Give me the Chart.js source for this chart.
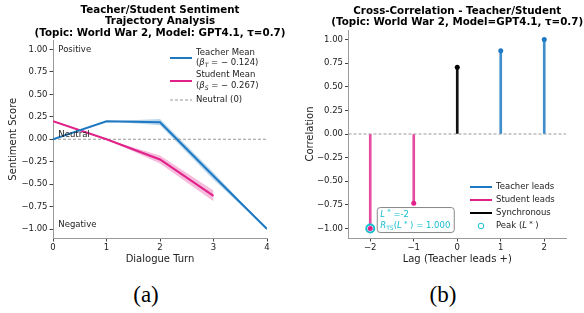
<!DOCTYPE html>
<html>
<head>
<meta charset="utf-8">
<script src="https://cdn.jsdelivr.net/npm/chart.js@4.4.0/dist/chart.umd.min.js"></script>
<style>
  body { margin: 0; background: #fff; width: 584px; height: 313px; position: relative; overflow: hidden; }
  canvas { position: absolute; top: 0; }
  #left { left: 0; }
  #right { left: 292px; }
  .tag { position: absolute; top: 282px; font: 23px "Liberation Serif", "DejaVu Serif", serif; color: #000; transform: translateX(-50%); }
</style>
</head>
<body>
<canvas id="left" width="292" height="270"></canvas>
<canvas id="right" width="292" height="270"></canvas>
<div class="tag" style="left:146px">(a)</div>
<div class="tag" style="left:443px">(b)</div>
<script>
// ---- data (a): sentiment trajectory
const turns = [0, 1, 2, 3, 4];
const teacherMean = [0, 0.2, 0.19, -0.41, -1.0];
const teacherUpper = [0, 0.2, 0.225, -0.37, -1.0];
const teacherLower = [0, 0.2, 0.155, -0.45, -1.0];
const studentMean = [0.2, 0.0, -0.225, -0.63];
const studentUpper = [0.2, 0.0, -0.18, -0.57];
const studentLower = [0.2, 0.0, -0.27, -0.69];
const scoreTicks = [-1, -0.75, -0.5, -0.25, 0, 0.25, 0.5, 0.75, 1];
const scoreRange = [-1.1, 1.1];

// ---- data (b): cross-correlation
const lags = [-2, -1, 0, 1, 2];
const corr = [-1.0, -0.733, 0.705, 0.88, 1.0];
const lagRange = [-2.5, 2.5];
const peakLag = -2;

const FONT = 'DejaVu Sans';
const blue = '#1f79c2';
const pink = '#e0218a';
const cyan = '#17becf';

const pts = (xs, ys) => ys.map((y, i) => ({ x: xs[i], y: y }));
const minus = v => (v < 0 ? '\u2212' : '') + Math.abs(v);
const fmt2 = v => (v < 0 ? '\u2212' : '') + Math.abs(v).toFixed(2);

// draw a run of text pieces, some italic / sub / sup
function runText(ctx, x, y, parts, size, color) {
  ctx.save();
  ctx.fillStyle = color;
  ctx.textBaseline = 'middle';
  ctx.textAlign = 'left';
  parts.forEach(p => {
    const s = p.size || size;
    ctx.font = (p.bold ? 'bold ' : '') + (p.italic ? 'italic ' : '') + s + 'px "' + FONT + '"';
    ctx.fillText(p.t, x, y + (p.dy || 0));
    x += ctx.measureText(p.t).width;
  });
  ctx.restore();
}

function titleLines(chart, lines) {
  const ctx = chart.ctx, a = chart.chartArea;
  const cx = (a.left + a.right) / 2;
  ctx.save();
  ctx.font = 'bold 10.3px "' + FONT + '"';
  ctx.fillStyle = '#000';
  ctx.textAlign = 'center';
  ctx.textBaseline = 'middle';
  lines.forEach((l, i) => {
    ctx.fillText(l, cx, a.top - 7.5 - (lines.length - 1 - i) * 11.5);
  });
  ctx.restore();
}

function axisCommon(ticks, range, fmt) {
  return {
    type: 'linear', min: range[0], max: range[1], offset: false,
    afterBuildTicks: s => { s.ticks = ticks.map(v => ({ value: v })); },
    ticks: { font: { family: FONT, size: 8.5 }, color: '#222', padding: 2, autoSkip: false, maxRotation: 0, callback: v => fmt(v) },
    grid: { drawOnChartArea: false, drawTicks: true, tickLength: 3.5, color: '#444', offset: false },
    border: { display: true, color: '#999', width: 1 }
  };
}

// ---------- chart (a)
const leftText = {
  id: 'leftText',
  afterDraw(chart) {
    const ctx = chart.ctx;
    const x = chart.scales.x, y = chart.scales.y;
    titleLines(chart, ['Teacher/Student Sentiment', 'Trajectory Analysis', '(Topic: World War 2, Model: GPT4.1, \u03c4=0.7)']);
    runText(ctx, x.getPixelForValue(0.1), y.getPixelForValue(1.0), [{ t: 'Positive' }], 8.5, '#222');
    runText(ctx, x.getPixelForValue(0.1), y.getPixelForValue(0.05), [{ t: 'Neutral' }], 8.5, '#222');
    runText(ctx, x.getPixelForValue(0.1), y.getPixelForValue(-0.95), [{ t: 'Negative' }], 8.5, '#222');
    // legend
    ctx.save();
    ctx.lineWidth = 2;
    ctx.strokeStyle = blue;
    ctx.beginPath(); ctx.moveTo(170, 58); ctx.lineTo(192, 58); ctx.stroke();
    ctx.strokeStyle = pink;
    ctx.beginPath(); ctx.moveTo(170, 81); ctx.lineTo(192, 81); ctx.stroke();
    ctx.strokeStyle = '#999'; ctx.lineWidth = 1; ctx.setLineDash([3, 2]);
    ctx.beginPath(); ctx.moveTo(170, 100); ctx.lineTo(192, 100); ctx.stroke();
    ctx.restore();
    runText(ctx, 196, 52.5, [{ t: 'Teacher Mean' }], 8.5, '#222');
    runText(ctx, 196, 63, [{ t: '(' }, { t: '\u03b2', italic: true }, { t: 'T', italic: true, size: 6, dy: 2 }, { t: ' = \u2212 0.124)' }], 8.5, '#222');
    runText(ctx, 196, 75, [{ t: 'Student Mean' }], 8.5, '#222');
    runText(ctx, 196, 86, [{ t: '(' }, { t: '\u03b2', italic: true }, { t: 'S', italic: true, size: 6, dy: 2 }, { t: ' = \u2212 0.267)' }], 8.5, '#222');
    runText(ctx, 196, 100, [{ t: 'Neutral (0)' }], 8.5, '#222');
  }
};

const xa = axisCommon(turns, [turns[0], turns[turns.length - 1]], v => String(v));
xa.afterFit = s => { s.height = 32; };
xa.ticks.padding = 1;
xa.title = { display: true, text: 'Dialogue Turn', font: { family: FONT, size: 10 }, color: '#222', padding: { top: 0, bottom: 5 } };
const ya = axisCommon(scoreTicks, scoreRange, fmt2);
ya.afterFit = s => { s.width = 53; };
ya.title = { display: true, text: 'Sentiment Score', font: { family: FONT, size: 10 }, color: '#222', padding: { top: 7, bottom: 0 } };

new Chart(document.getElementById('left'), {
  type: 'line',
  data: {
    datasets: [
      { label: 'Teacher Mean', data: pts(turns, teacherMean), borderColor: blue, borderWidth: 2, pointRadius: 0, fill: false },
      { label: 'Student Mean', data: pts(turns, studentMean), borderColor: pink, borderWidth: 2, pointRadius: 0, fill: false },
      { label: 'Neutral (0)', data: turns.map(t => ({ x: t, y: 0 })), borderColor: '#999', borderWidth: 1, borderDash: [3, 2], pointRadius: 0, fill: false },
      { label: 'tu', data: pts(turns, teacherUpper), borderWidth: 0, borderColor: 'rgba(0,0,0,0)', pointRadius: 0, fill: '+1', backgroundColor: 'rgba(31,121,194,0.3)' },
      { label: 'tl', data: pts(turns, teacherLower), borderWidth: 0, borderColor: 'rgba(0,0,0,0)', pointRadius: 0, fill: false },
      { label: 'su', data: pts(turns, studentUpper), borderWidth: 0, borderColor: 'rgba(0,0,0,0)', pointRadius: 0, fill: '+1', backgroundColor: 'rgba(224,33,138,0.3)' },
      { label: 'sl', data: pts(turns, studentLower), borderWidth: 0, borderColor: 'rgba(0,0,0,0)', pointRadius: 0, fill: false }
    ]
  },
  options: {
    responsive: false, animation: false,
    layout: { padding: { top: 40.5, right: 25, left: 0, bottom: 0 } },
    plugins: { legend: { display: false }, tooltip: { enabled: false } },
    scales: { x: xa, y: ya }
  },
  plugins: [leftText]
});

// ---------- chart (b)
const teacherLags = lags.filter(l => l > 0), teacherCorr = corr.filter((c, i) => lags[i] > 0);
const studentLags = lags.filter(l => l < 0), studentCorr = corr.filter((c, i) => lags[i] < 0);
const syncLags = lags.filter(l => l === 0), syncCorr = corr.filter((c, i) => lags[i] === 0);
const peakCorr = corr[lags.indexOf(peakLag)];

const rightText = {
  id: 'rightText',
  afterDraw(chart) {
    const ctx = chart.ctx;
    const x = chart.scales.x, y = chart.scales.y;
    titleLines(chart, ['Cross-Correlation - Teacher/Student', '(Topic: World War 2, Model=GPT4.1, \u03c4=0.7)']);
    // annotation box
    const bx = x.getPixelForValue(peakLag) + 7, by = y.getPixelForValue(peakCorr) - 21;
    ctx.save();
    ctx.fillStyle = 'rgba(255,255,255,0.9)';
    ctx.strokeStyle = '#888';
    ctx.lineWidth = 1;
    ctx.beginPath();
    ctx.roundRect(bx, by, 77, 25, 3);
    ctx.fill(); ctx.stroke();
    ctx.restore();
    runText(ctx, bx + 3, by + 7, [{ t: 'L', italic: true }, { t: ' *', size: 7, dy: -2 }, { t: ' =-2' }], 8.5, cyan);
    runText(ctx, bx + 3, by + 18.5, [{ t: 'R', italic: true }, { t: 'TS', size: 6, dy: 2 }, { t: '(' }, { t: 'L', italic: true }, { t: ' *', size: 7, dy: -2 }, { t: ' ) = 1.000' }], 8.5, cyan);
    // legend
    ctx.save();
    ctx.lineWidth = 2;
    [[blue, 187], [pink, 200], ['#000', 213]].forEach(r => {
      ctx.strokeStyle = r[0];
      ctx.beginPath(); ctx.moveTo(178, r[1]); ctx.lineTo(200, r[1]); ctx.stroke();
    });
    ctx.strokeStyle = cyan; ctx.lineWidth = 1;
    ctx.beginPath(); ctx.arc(189, 226, 2.8, 0, Math.PI * 2); ctx.stroke();
    ctx.restore();
    runText(ctx, 204, 187, [{ t: 'Teacher leads' }], 8.5, '#222');
    runText(ctx, 204, 200, [{ t: 'Student leads' }], 8.5, '#222');
    runText(ctx, 204, 213, [{ t: 'Synchronous' }], 8.5, '#222');
    runText(ctx, 204, 226, [{ t: 'Peak (' }, { t: 'L', italic: true }, { t: ' *', size: 7, dy: -2 }, { t: ' )' }], 8.5, '#222');
  }
};

const xb = axisCommon(lags, lagRange, minus);
xb.afterFit = s => { s.height = 32; };
xb.ticks.padding = 1;
xb.title = { display: true, text: 'Lag (Teacher leads +)', font: { family: FONT, size: 10 }, color: '#222', padding: { top: 0, bottom: 5 } };
const yb = axisCommon(scoreTicks, scoreRange, fmt2);
yb.afterFit = s => { s.width = 56.5; };
yb.title = { display: true, text: 'Correlation', font: { family: FONT, size: 10 }, color: '#222', padding: { top: 12, bottom: 0 } };

const stemBlue = 'rgba(31,121,194,0.85)';
const stemPink = 'rgba(224,33,138,0.8)';

new Chart(document.getElementById('right'), {
  type: 'scatter',
  data: {
    datasets: [
      { type: 'scatter', label: 'sd', data: pts(studentLags, studentCorr), pointRadius: 2.5, pointBackgroundColor: pink, pointBorderWidth: 0 },
      { type: 'scatter', label: 'td', data: pts(teacherLags, teacherCorr), pointRadius: 2.5, pointBackgroundColor: blue, pointBorderWidth: 0 },
      { type: 'scatter', label: 'yd', data: pts(syncLags, syncCorr), pointRadius: 2.5, pointBackgroundColor: '#000', pointBorderWidth: 0 },
      { type: 'scatter', label: 'Peak (L*)', data: [{ x: peakLag, y: peakCorr }], pointRadius: 4, pointBorderWidth: 2, pointBorderColor: cyan, pointBackgroundColor: 'rgba(255,255,255,0.6)' },
      { type: 'bar', label: 'Teacher leads', data: pts(teacherLags, teacherCorr), backgroundColor: stemBlue, barThickness: 2, grouped: false },
      { type: 'bar', label: 'Student leads', data: pts(studentLags, studentCorr), backgroundColor: stemPink, barThickness: 2, grouped: false },
      { type: 'bar', label: 'Synchronous', data: pts(syncLags, syncCorr), backgroundColor: '#111', barThickness: 2, grouped: false },
      { type: 'line', label: 'zero', data: lagRange.map(l => ({ x: l, y: 0 })), borderColor: '#999', borderWidth: 1, borderDash: [3, 2], pointRadius: 0, fill: false }
    ]
  },
  options: {
    responsive: false, animation: false,
    layout: { padding: { top: 30, right: 18, left: 0, bottom: 0 } },
    plugins: { legend: { display: false }, tooltip: { enabled: false } },
    scales: { x: xb, y: yb }
  },
  plugins: [rightText]
});
</script>
</body>
</html>
